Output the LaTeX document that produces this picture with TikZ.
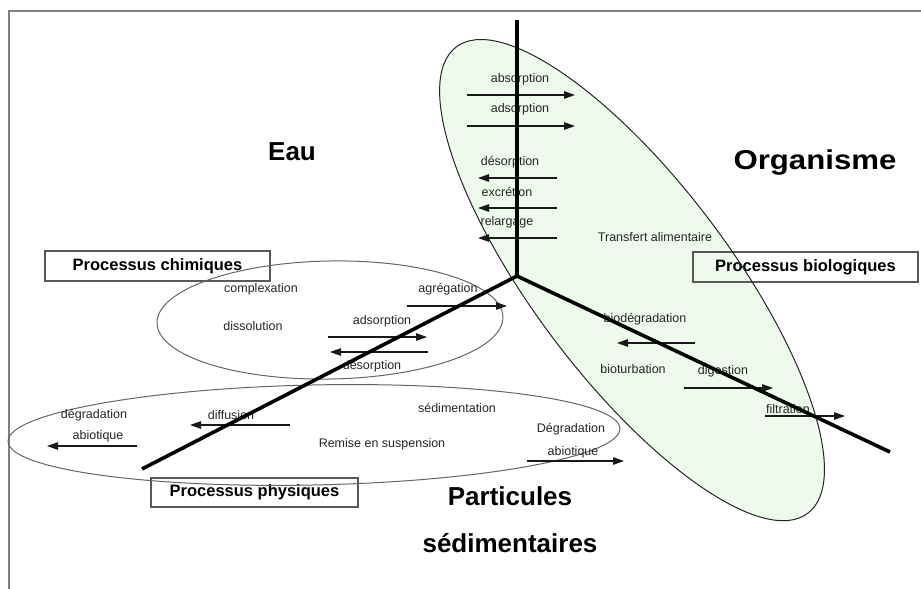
\documentclass[tikz,border=0pt]{standalone}
\usepackage{fontspec}
\setmainfont{Liberation Sans}
\usetikzlibrary{arrows.meta,positioning}
\definecolor{vertpale}{RGB}{237,250,236}

\begin{document}
\begin{tikzpicture}[x=1pt,y=-1pt,
  axe/.style={line width=3.6pt,black},
  flux/.style={line width=1.2pt,black!90,-{Triangle[length=11pt,width=7.5pt]}},
  lbl/.style={font=\fontsize{12.5}{14}\selectfont,text=black!85,inner sep=0pt},
  titre/.style={font=\fontsize{26}{30}\selectfont\bfseries,inner sep=0pt},
  procbox/.style={draw=black!65,line width=1.2pt,font=\fontsize{16.5}{18}\selectfont\bfseries,inner sep=0pt},
  zone/.style={line width=1pt,draw=black!60}]
\useasboundingbox (0,0) rectangle (921,589);
\draw[black!50,line width=2pt] (921,11) -- (9,11) -- (9,589);
%----------------------------------
\coordinate (cbio) at (632,280);
\coordinate (cchim) at (330,320);
\coordinate (cphys) at (314,435);
\fill[vertpale,rotate around={-53:(cbio)}] (cbio) ellipse (292 and 98);
%----------------------------------
\node[procbox,minimum width=225pt,minimum height=30pt] (chim) at (157.5,266) {Processus chimiques};
\node[procbox,minimum width=225pt,minimum height=30pt] (bio) at (805.5,267) {Processus biologiques};
\node[procbox,minimum width=207pt,minimum height=29pt] (phys) at (254.5,492.5) {Processus physiques};
%----------------------------------
\draw[zone,draw=black!85,rotate around={-53:(cbio)}] (cbio) ellipse (292 and 98);
\draw[zone,rotate around={1:(cchim)}] (cchim) ellipse (173 and 59);
\draw[zone,rotate around={1.2:(cphys)}] (cphys) ellipse (306 and 50);
%----------------------------------
\node[titre] (eau) at (292,152) {Eau};
\node[titre] (orga) at (815,163) {\scalebox{1.2}[1.05]{Organisme}};
\node[titre] (part) at (510,496) {Particules};
\node[titre] (sedi) at (510,543) {sédimentaires};
%----------------------------------
\node[lbl] (absorp) at (520,79) {absorption};
\node[lbl] (adsorp) at (520,109) {adsorption};
\node[lbl] (desorp) at (510,162) {désorption};
\node[lbl] (excret) at (507,192) {excrétion};
\node[lbl] (relarg) at (507,222) {relargage};
\node[lbl] (transf) at (655,237) {Transfert alimentaire};
%----------------------------------
\node[lbl] (complex) at (261,289) {complexation};
\node[lbl] (agreg) at (448,289) {agrégation};
\node[lbl] (dissol) at (253,326) {dissolution};
\node[lbl] (adsorpb) at (382,321) {adsorption};
\node[lbl] (desorpb) at (372,366) {désorption};
%----------------------------------
\node[lbl] (degrad) at (94,415) {dégradation};
\node[lbl] (abiot) at (98,436) {abiotique};
\node[lbl] (diffus) at (231,415) {diffusion};
\node[lbl] (sedim) at (457,408) {sédimentation};
\node[lbl] (remise) at (382,444) {Remise en suspension};
\node[lbl] (degradb) at (571,429) {Dégradation};
\node[lbl] (abiotb) at (573,452) {abiotique};
%----------------------------------
\node[lbl] (biodeg) at (645,319) {biodégradation};
\node[lbl] (biotur) at (633,369) {bioturbation};
\node[lbl] (digest) at (723,371) {digestion};
\node[lbl] (filtr) at (788,409) {filtration};
%----------------------------------
\foreach \n/\xa/\xb/\y in {absorp/467/575/95, adsorp/467/575/126,
  desorp/557/478/178, excret/557/478/208, relarg/557/478/238,
  agreg/407/507/306, adsorpb/328/427/337, desorpb/428/330/352,
  abiot/137/47/446, diffus/290/190/425, abiotb/527/624/461,
  biodeg/695/617/343, digest/684/773/388, filtr/765/845/416}
{
  \coordinate (\n-a) at (\xa,\y);
  \coordinate (\n-b) at (\xb,\y);
  \draw[flux] (\n-a) -- (\n-b);
}
%----------------------------------
\coordinate (o) at (517,276);
\coordinate (haut) at (517,20);
\coordinate (droite) at (890,452);
\coordinate (gauche) at (142,469);
\draw[axe] (haut) -- (o) -- (droite);
\draw[axe] (o) -- (gauche);
\end{tikzpicture}
\end{document}
